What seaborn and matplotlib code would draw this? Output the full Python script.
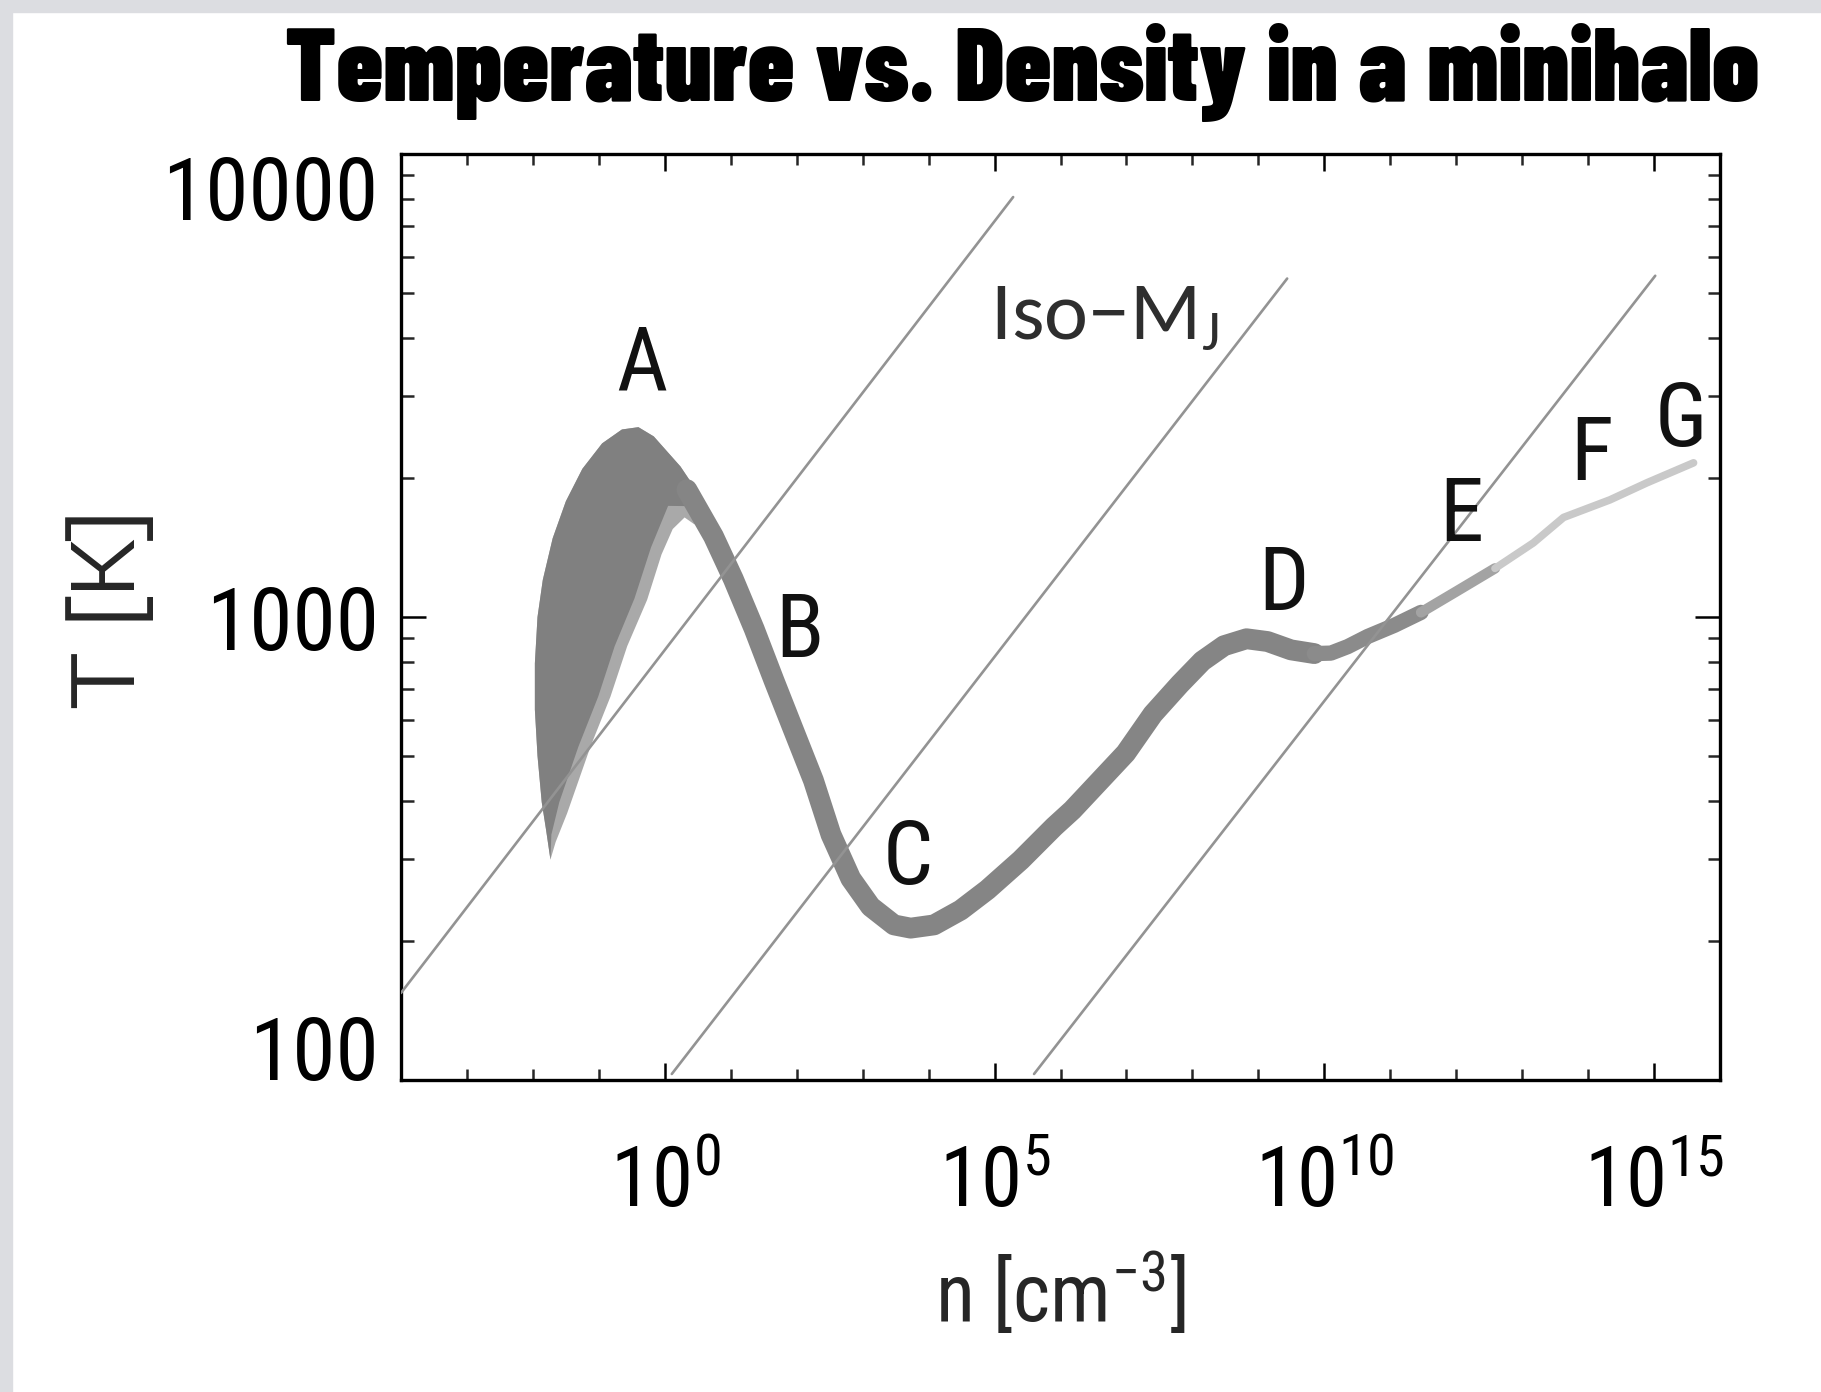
import numpy as np
import pandas as pd
import matplotlib
matplotlib.use("Agg")
import matplotlib.pyplot as plt
from matplotlib.patches import Rectangle
from matplotlib.ticker import FixedLocator, FixedFormatter, NullFormatter, LogLocator
import seaborn as sns

# ---------------- data (log10 values) ----------------
# main collapse track (centre of the grey band)
track_logn = [0.335, 0.739, 1.039, 1.356, 1.655, 1.954, 2.254, 2.52, 2.82,
              3.121, 3.475, 3.728, 4.082, 4.487, 4.892, 5.398, 5.903, 6.180, 6.989,
              7.40, 7.81, 8.15, 8.48, 8.82, 9.14, 9.495, 9.848, 10.10, 10.355,
              10.659, 11.062, 11.467, 12.0, 12.588, 13.169, 13.627, 14.331, 14.894,
              15.599]
track_logT = [3.275, 3.174, 3.082, 2.974, 2.863, 2.755, 2.647, 2.53, 2.435,
              2.3745, 2.335, 2.328, 2.335, 2.367, 2.411, 2.475, 2.547, 2.583, 2.706,
              2.79, 2.855, 2.905, 2.938, 2.953, 2.947, 2.929, 2.921, 2.922, 2.936,
              2.958, 2.982, 3.01, 3.055, 3.105, 3.160, 3.215, 3.253, 3.290,
              3.333]

# spread of trajectories around peak A: outer (upper-left) envelope
outer_logn = [-1.734, -1.80, -1.866, -1.93, -1.97, -1.97, -1.93, -1.85, -1.70,
              -1.50, -1.25, -0.95, -0.65, -0.40, -0.167, 0.238, 0.643]
outer_logT = [2.476, 2.54, 2.60, 2.70, 2.80, 2.90, 3.00, 3.08, 3.17,
              3.25, 3.32, 3.375, 3.405, 3.41, 3.39, 3.325, 3.239]
# inner (lower-right) envelope, running back down
inner_logn = [0.45, 0.30, 0.12, -0.05, -0.268, -0.570, -0.824, -1.127, -1.481, -1.655]
inner_logT = [3.20, 3.215, 3.19, 3.135, 3.037, 2.937, 2.828, 2.720, 2.576, 2.514]
# inner boundary of the darker core of the spread
core_logn = [0.05, -0.21, -0.46, -0.76, -1.01, -1.31, -1.60, -1.72]
core_logT = [3.24, 3.15, 3.04, 2.937, 2.828, 2.72, 2.60, 2.53]

# iso-Jeans-mass lines (start, end)
iso_start_logn = [-4.0, 0.106, 5.599]
iso_start_logT = [2.188, 2.013, 2.013]
iso_end_logn = [5.282, 9.437, 15.018]
iso_end_logT = [3.907, 3.731, 3.737]

# phase labels
phase_text = ["A", "B", "C", "D", "E", "F", "G"]
phase_logn = [-0.352, 2.042, 3.680, 9.384, 12.077, 14.049, 15.405]
phase_logT = [3.543, 2.966, 2.477, 3.067, 3.217, 3.348, 3.423]

x_major_ticks = [1e0, 1e5, 1e10, 1e15]
x_major_labels = [r"$\mathregular{10^{0}}$", r"$\mathregular{10^{5}}$",
                  r"$\mathregular{10^{10}}$", r"$\mathregular{10^{15}}$"]
y_major_ticks = [100, 1000, 10000]
y_major_labels = ["100", "1000", "10000"]

title_text = "Temperature vs. Density in a minihalo"
xlabel_text = r"n [cm$\mathregular{^{-3}}$]"
ylabel_text = "T [K]"
iso_text = r"Iso$\mathregular{-}$M$\mathregular{_J}$"

# ---------------- style ----------------
sns.set_theme(style="white")
narrow = ["Roboto Condensed", "Archivo Narrow", "DejaVu Sans"]
plt.rcParams["font.family"] = narrow
plt.rcParams["mathtext.default"] = "regular"

W, H = 1821, 1392
fig = plt.figure(figsize=(W / 100, H / 100), dpi=100)
fig.patch.set_facecolor("white")
# grey page border (top and left)
fig.add_artist(Rectangle((0, 1 - 12 / H), 1, 12 / H, transform=fig.transFigure,
                         color="#dcdde1", zorder=0))
fig.add_artist(Rectangle((0, 0), 12 / W, 1, transform=fig.transFigure,
                         color="#dcdde1", zorder=0))

ax = fig.add_axes([401 / W, 1 - 1080 / H, (1720 - 401) / W, (1080 - 154) / H])
ax.set_facecolor("white")
ax.set_xscale("log")
ax.set_yscale("log")
ax.set_xlim(1e-4, 1e16)
ax.set_ylim(100, 10000)

# spread polygon around A
spread_n = 10 ** np.array(outer_logn + inner_logn)
spread_T = 10 ** np.array(outer_logT + inner_logT)
ax.fill(spread_n, spread_T, color="#a9a9a9", lw=0, zorder=2)
core_n = 10 ** np.array(outer_logn + core_logn)
core_T = 10 ** np.array(outer_logT + core_logT)
ax.fill(core_n, core_T, color="#808080", lw=0, zorder=2)

# main track, in sections of decreasing width / darkness
track = pd.DataFrame({"n": 10 ** np.array(track_logn), "T": 10 ** np.array(track_logT)})
sections = [(0, 26, "#858585", 15.0), (26, 31, "#8b8b8b", 11.0),
            (31, 33, "#a3a3a3", 7.5), (33, 38, "#c9c9c9", 5.5)]
for i0, i1, col, lw in sections:
    seg = track.iloc[i0:i1 + 1]
    sns.lineplot(data=seg, x="n", y="T", sort=False, estimator=None, ax=ax,
                 color=col, lw=lw, solid_capstyle="round", solid_joinstyle="round",
                 zorder=2)

# iso-M_J lines
iso = pd.DataFrame({
    "n": np.concatenate([10 ** np.array(iso_start_logn), 10 ** np.array(iso_end_logn)]),
    "T": np.concatenate([10 ** np.array(iso_start_logT), 10 ** np.array(iso_end_logT)]),
    "line": list(range(3)) * 2,
})
sns.lineplot(data=iso, x="n", y="T", units="line", estimator=None, sort=True, ax=ax,
             color="#939393", lw=1.9, zorder=3)

# phase letters
for t, ln, lT in zip(phase_text, phase_logn, phase_logT):
    ax.text(10 ** ln, 10 ** lT, t, ha="center", va="center", fontsize=64,
            color="#111111", family=narrow, zorder=4)

ax.text(10 ** 6.66, 10 ** 3.648, iso_text, ha="center", va="center", fontsize=60,
        color="#2e2e2e", family=["Carlito", "Open Sans", "DejaVu Sans"], zorder=4)

# ticks
ax.xaxis.set_major_locator(FixedLocator(x_major_ticks))
ax.xaxis.set_major_formatter(FixedFormatter(x_major_labels))
ax.xaxis.set_minor_locator(LogLocator(base=10, subs=(1.0,), numticks=100))
ax.xaxis.set_minor_formatter(NullFormatter())
ax.yaxis.set_major_locator(FixedLocator(y_major_ticks))
ax.yaxis.set_major_formatter(FixedFormatter(y_major_labels))
ax.yaxis.set_minor_locator(LogLocator(base=10, subs=np.arange(2, 10), numticks=100))
ax.yaxis.set_minor_formatter(NullFormatter())

ax.tick_params(axis="x", which="major", direction="in", length=12, width=1.8,
               top=True, bottom=True, pad=46, labelsize=60, colors="black")
ax.tick_params(axis="x", which="minor", direction="in", length=8, width=1.8,
               top=True, bottom=True)
ax.tick_params(axis="y", which="major", direction="in", length=18, width=1.8,
               left=True, right=True, pad=16, labelsize=63, colors="black")
ax.tick_params(axis="y", which="minor", direction="in", length=9, width=1.8,
               left=True, right=True)

for sp in ax.spines.values():
    sp.set_color("black")
    sp.set_linewidth(2.4)
    sp.set_visible(True)

ax.set_xlabel(xlabel_text, fontsize=58, family=narrow)
ax.set_ylabel(ylabel_text, fontsize=61,
              family=["Encode Sans Expanded", "Liberation Sans", "DejaVu Sans"])
ax.xaxis.set_label_coords(0.5, (1080 - 1295) / 926)
ax.xaxis.label.set_va("center")
ax.yaxis.set_label_coords((110 - 401) / 1319, 0.51)
ax.yaxis.label.set_va("center")
ax.yaxis.label.set_ha("center")

title = fig.text(1022 / W, 1 - 72 / H, title_text, ha="center", va="center",
                 fontsize=60, fontweight=900,
                 family=["Barlow Condensed", "Anton", "DejaVu Sans"], color="black")
fig.canvas.draw()
tw = title.get_window_extent().width
title.set_fontsize(60 * 1475 / tw)

# keep the end labels of the T axis inside the frame, as in the reference
yticks = ax.yaxis.get_major_ticks()
yticks[0].label1.set_va("baseline")
yticks[-1].label1.set_va("top")

fig.savefig("out.png", dpi=100)
